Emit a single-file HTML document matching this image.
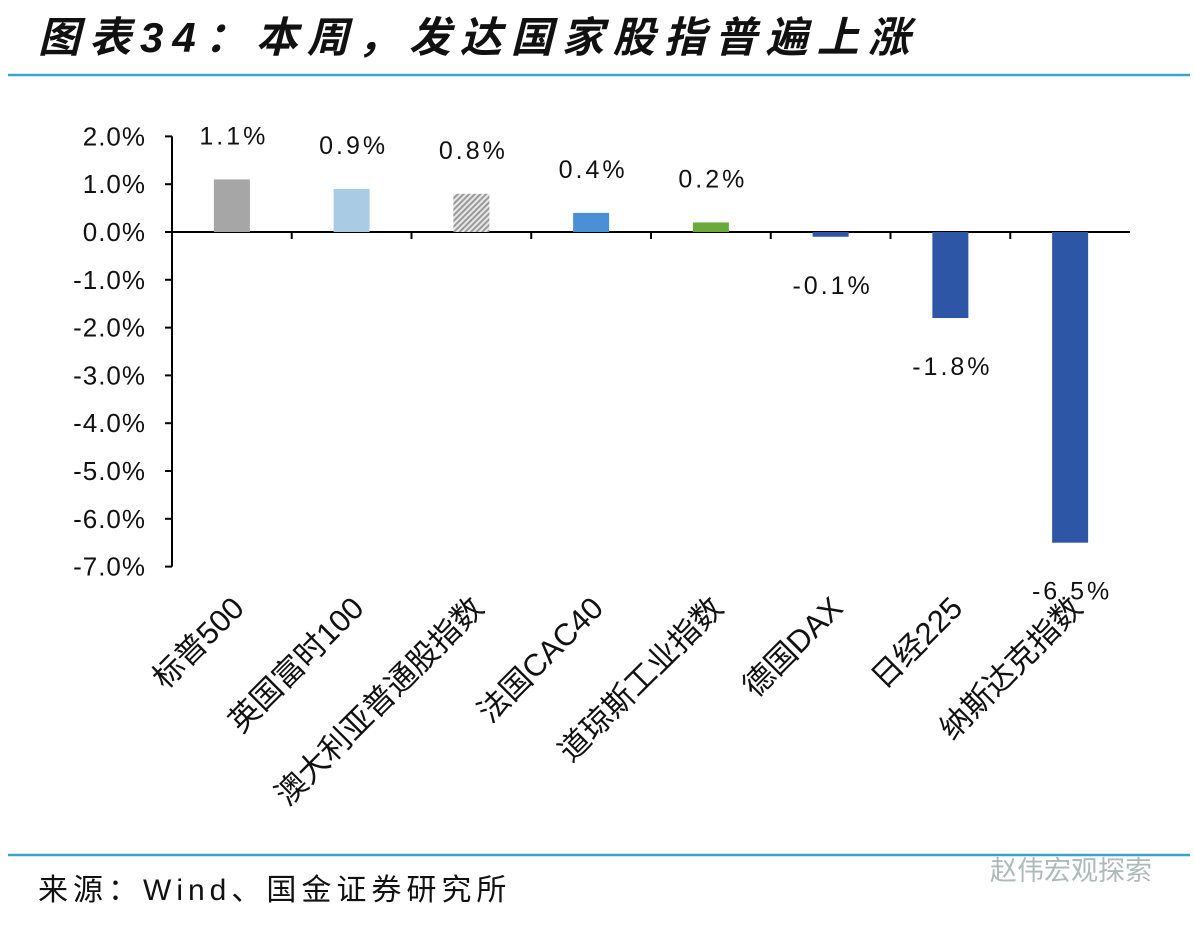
<!DOCTYPE html>
<html><head><meta charset="utf-8"><style>
body{margin:0;background:#fff;width:1194px;height:920px;overflow:hidden;font-family:"Liberation Sans","Noto Sans CJK SC",sans-serif}
</style></head><body>
<svg width="1194" height="920" xmlns="http://www.w3.org/2000/svg">
<defs><pattern id="hatch" width="4" height="4" patternUnits="userSpaceOnUse" patternTransform="rotate(45)"><rect width="4" height="4" fill="#e8e8e8"/><rect width="2" height="4" fill="#9a9a9a"/></pattern></defs>
<text x="38" y="52" font-size="42" font-weight="bold" font-style="italic" fill="#111" letter-spacing="9" font-family="Liberation Sans,Noto Sans CJK SC,sans-serif">图表34：本周，发达国家股指普遍上涨</text>
<line x1="8" y1="75" x2="1190" y2="75" stroke="#3aa5cc" stroke-width="2.5"/>
<line x1="8" y1="855" x2="1190" y2="855" stroke="#3aa5cc" stroke-width="2.5"/>
<text x="38" y="900" font-size="30" fill="#111" letter-spacing="5">来源：Wind、国金证券研究所</text>
<text x="990" y="880" font-size="27" fill="#9aa" opacity="0.8">赵伟宏观探索</text>
<g id="plot"></g>
</svg>
<script>
const categories=["标普500","英国富时100","澳大利亚普通股指数","法国CAC40","道琼斯工业指数","德国DAX","日经225","纳斯达克指数"];
const values=[1.1,0.9,0.8,0.4,0.2,-0.1,-1.8,-6.5];
const labels=["1.1%","0.9%","0.8%","0.4%","0.2%","-0.1%","-1.8%","-6.5%"];
const yTicks=[2,1,0,-1,-2,-3,-4,-5,-6,-7];
const colors=["#a6a6a6","#a9cbe3","url(#hatch)","#4a8fd8","#6aaa3a","#2e56a6","#2e56a6","#2e56a6"];
const NS="http://www.w3.org/2000/svg";
const g=document.getElementById('plot');
const x0=172,bw=119.75,barW=36;
const y=v=>232-v*47.8;
function mk(t,a,p){const e=document.createElementNS(NS,t);for(const k in a)e.setAttribute(k,a[k]);(p||g).appendChild(e);return e;}
let ax=mk('line',{x1:x0,y1:y(2),x2:x0,y2:y(-7),stroke:'#000','stroke-width':2});


yTicks.forEach(t=>{
 let l=mk('line',{x1:x0-7,y1:y(t),x2:x0,y2:y(t),stroke:'#000','stroke-width':2});
 
 
 let tx=mk('text',{x:146,y:y(t)+9,'font-size':26,'text-anchor':'end',fill:'#111','letter-spacing':'1'});
 tx.textContent=(t<0?'-':'')+Math.abs(t).toFixed(1)+'%';
 
 
});
let xa=mk('line',{x1:x0,y1:y(0),x2:x0+bw*8,y2:y(0),stroke:'#000','stroke-width':2});


categories.forEach((c,i)=>{
 const cx=x0+bw*(i+0.5),v=values[i];
 if(i>0){let tk=mk('line',{x1:x0+bw*i,y1:y(0),x2:x0+bw*i,y2:y(0)+7,stroke:'#000','stroke-width':2});
 
 }
 let r=mk('rect',{x:cx-barW/2,y:Math.min(y(v),y(0)),width:barW,height:Math.max(Math.abs(y(v)-y(0)),2),fill:colors[i]});
 
 
 let ly=v>=0?y(v)-35:y(v)+57;
 let lt=mk('text',{x:cx+2,y:ly,'font-size':25,'text-anchor':'middle',fill:'#111','letter-spacing':'3'});
 lt.textContent=labels[i];
 
 
 let ct=mk('text',{x:0,y:0,'font-size':31,'text-anchor':'end',fill:'#111',transform:`translate(${cx+14},${610}) rotate(-45)`});
 ct.textContent=c;
 
 
});
</script>
</body></html>
